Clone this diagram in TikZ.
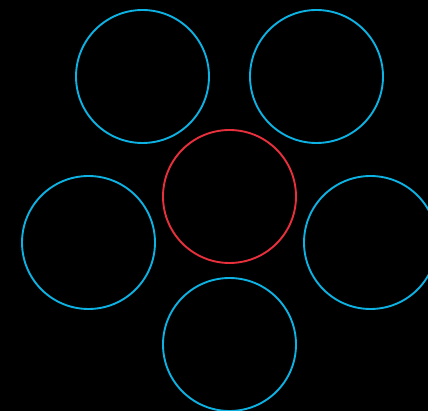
\documentclass[tikz,border=0pt]{standalone}
\usepackage{tikz}
\definecolor{Cline}{HTML}{0DB1E2}
\definecolor{Mline}{HTML}{E8303C}

\begin{document}
\begin{tikzpicture}[x=1pt,y=-1pt,line join=round,line cap=round]
\def\rr{66.5}

% ---- black page ----
\fill[black] (0,0) rectangle (428,411);
\useasboundingbox (0,0) rectangle (428,411);

% ---- the middle circle ----
\node[circle,draw=Mline,line width=1.9pt,minimum size=2*\rr pt,inner sep=0pt]
  (mid) at (229.5,196.5) {};

% ---- the five circles round it ----
\foreach \n/\x/\y in {tl/142.5/76.5, tr/316.5/76.5, ml/88.5/242.5,
                      mr/370.5/242.5, bot/229.5/344.5}{
  \node[circle,draw=Cline,line width=1.9pt,minimum size=2*\rr pt,inner sep=0pt]
    (\n) at (\x,\y) {};}
\end{tikzpicture}
\end{document}
